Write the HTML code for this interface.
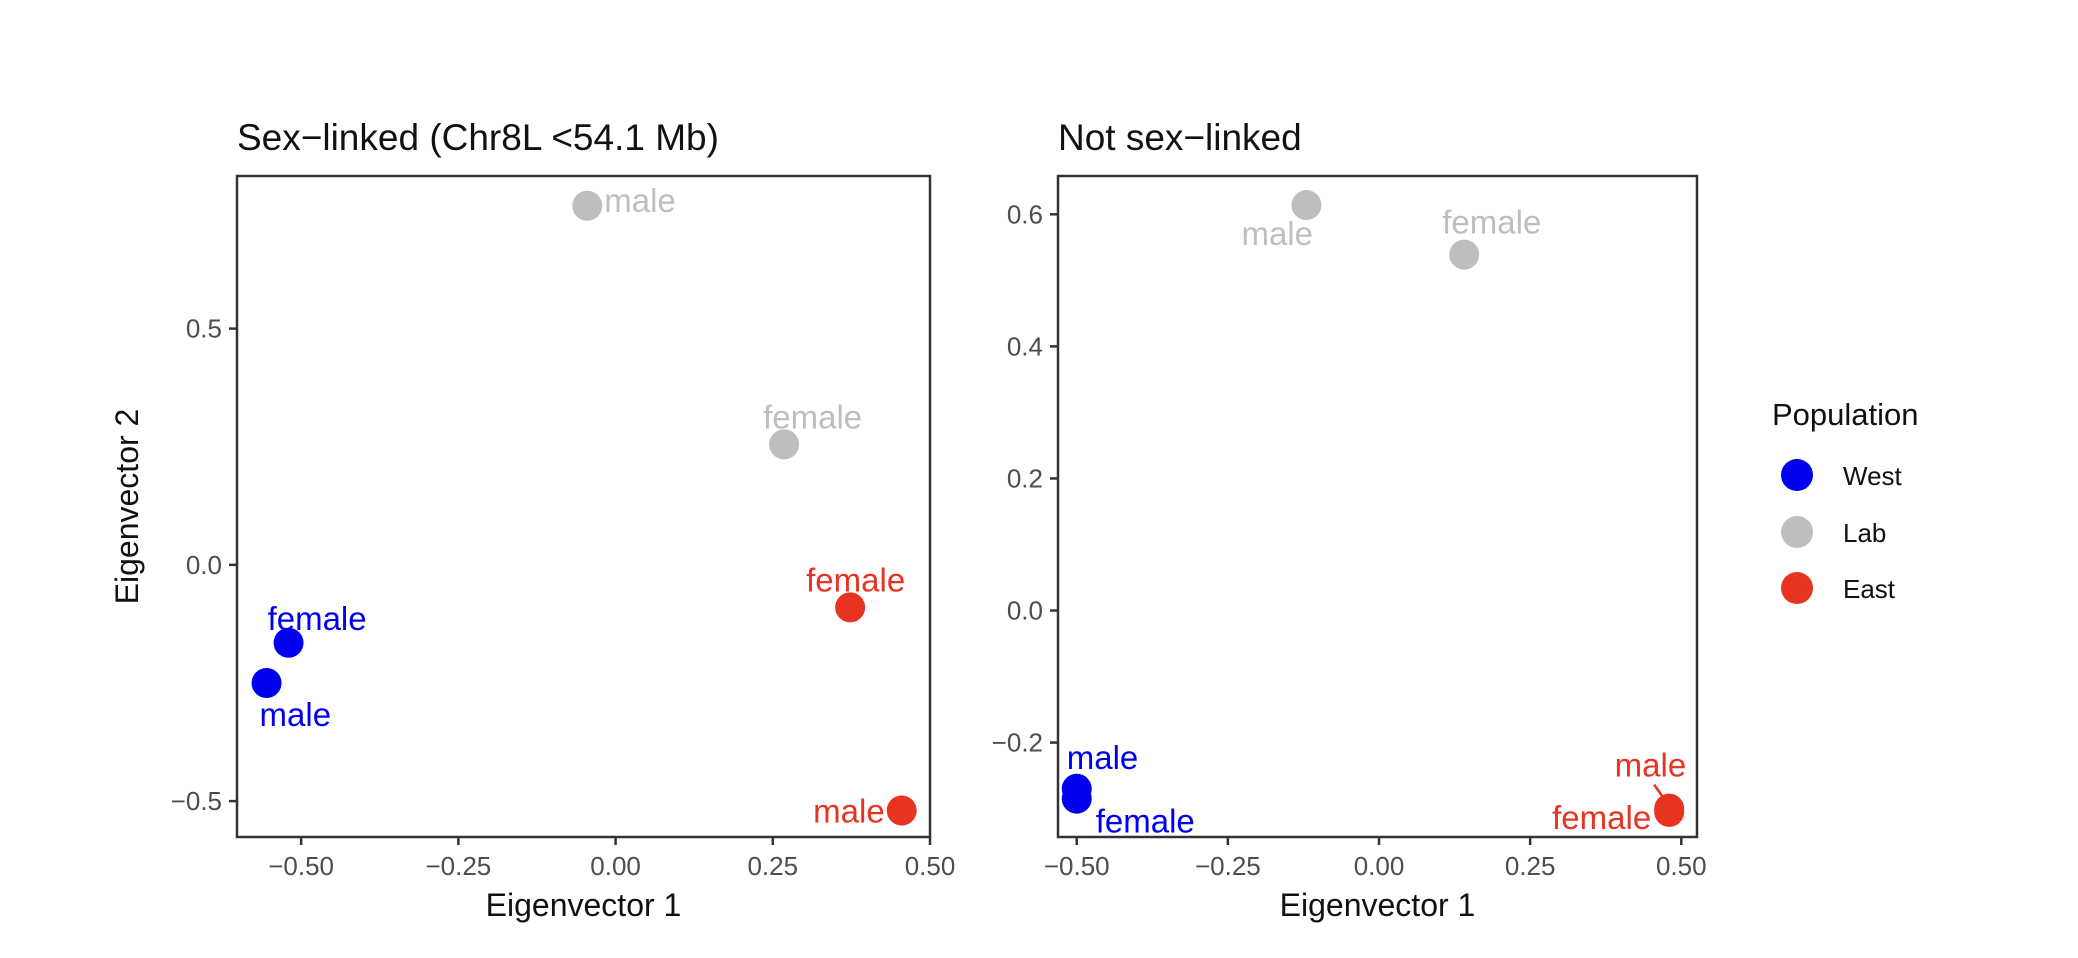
<!DOCTYPE html>
<html><head><meta charset="utf-8">
<style>
html,body{margin:0;padding:0;background:#fff;}
svg{display:block;font-family:"Liberation Sans",sans-serif;}
</style></head>
<body>
<svg id="chart" width="2078" height="958" viewBox="0 0 2078 958" xmlns="http://www.w3.org/2000/svg">
<rect x="0" y="0" width="2078" height="958" fill="#fff"/>
<g>
<text x="1772" y="425" font-size="31" fill="#111">Population</text>
<circle cx="1797" cy="475" r="16" fill="#0000f0"/>
<text x="1843" y="485" font-size="26" fill="#111">West</text>
<circle cx="1797" cy="532" r="16" fill="#bebebe"/>
<text x="1843" y="542" font-size="26" fill="#111">Lab</text>
<circle cx="1797" cy="588" r="16" fill="#e83320"/>
<text x="1843" y="598" font-size="26" fill="#111">East</text>
</g>
</svg>
<script>
// ---- Data: left panel (sex-linked)
const leftX = [-0.52, -0.555, -0.045, 0.268, 0.373, 0.455];
const leftY = [-0.165, -0.25, 0.76, 0.255, -0.09, -0.52];
const leftPop = ["West","West","Lab","Lab","East","East"];
const leftSex = ["female","male","male","female","female","male"];
const leftXTicks = [-0.5,-0.25,0,0.25,0.5];
const leftXTickLabels = ["\u22120.50","\u22120.25","0.00","0.25","0.50"];
const leftYTicks = [-0.5,0,0.5];
const leftYTickLabels = ["\u22120.5","0.0","0.5"];
// ---- Data: right panel (not sex-linked)
const rightX = [-0.5, -0.5, -0.12, 0.141, 0.48, 0.48];
const rightY = [-0.27, -0.285, 0.614, 0.539, -0.3, -0.305];
const rightPop = ["West","West","Lab","Lab","East","East"];
const rightSex = ["male","female","male","female","male","female"];
const rightXTicks = [-0.5,-0.25,0,0.25,0.5];
const rightXTickLabels = ["\u22120.50","\u22120.25","0.00","0.25","0.50"];
const rightYTicks = [-0.2,0,0.2,0.4,0.6];
const rightYTickLabels = ["\u22120.2","0.0","0.2","0.4","0.6"];

const colors = {West:"#0000f0", Lab:"#bebebe", East:"#e83320"};
// label offsets (styling: dx, dy, anchor)
const leftLabelOff = [[-21,-13,"start"],[-7,43,"start"],[17,6,"start"],[-21,-16,"start"],[-44,-16,"start"],[-17,12,"end"]];
const rightLabelOff = [[-10,-20,"start"],[19,34,"start"],[-65,40,"start"],[-22,-21,"start"],[17,-32,"end"],[-18,17,"end"]];

const svg = document.getElementById('chart');
const NS = "http://www.w3.org/2000/svg";
function mk(tag, attrs, parent){
  const e = document.createElementNS(NS, tag);
  for (const k in attrs) e.setAttribute(k, attrs[k]);
  (parent||svg).appendChild(e);
  return e;
}

function panel(cfg){
  const g = mk('g', {});
  
  
  const sx = v => cfg.x0 + (v - cfg.xmin) / (cfg.xmax - cfg.xmin) * (cfg.x1 - cfg.x0);
  const sy = v => cfg.y1 - (v - cfg.ymin) / (cfg.ymax - cfg.ymin) * (cfg.y1 - cfg.y0);
  const t = mk('text', {x: cfg.x0, y: 150, 'font-size': 37, fill: '#111'}, g);
  t.textContent = cfg.title;
  
  
  const fr = mk('rect', {x: cfg.x0, y: cfg.y0, width: cfg.x1 - cfg.x0, height: cfg.y1 - cfg.y0, fill: 'none', stroke: '#333', 'stroke-width': 2.5}, g);
  
  
  cfg.xt.forEach((v, i) => {
    const x = sx(v);
    const l = mk('line', {x1: x, x2: x, y1: cfg.y1, y2: cfg.y1 + 8, stroke: '#333', 'stroke-width': 2.5}, g);
    
    
    const tl = mk('text', {x: x, y: 875, 'font-size': 26, fill: '#4d4d4d', 'text-anchor': 'middle'}, g);
    tl.textContent = cfg.xtl[i];
    
    
  });
  cfg.yt.forEach((v, i) => {
    const y = sy(v);
    const l = mk('line', {x1: cfg.x0 - 8, x2: cfg.x0, y1: y, y2: y, stroke: '#333', 'stroke-width': 2.5}, g);
    
    
    const tl = mk('text', {x: cfg.x0 - 15, y: y + 9, 'font-size': 26, fill: '#4d4d4d', 'text-anchor': 'end'}, g);
    tl.textContent = cfg.ytl[i];
    
    
  });
  const xt = mk('text', {x: (cfg.x0 + cfg.x1) / 2, y: 916, 'font-size': 32, fill: '#111', 'text-anchor': 'middle'}, g);
  xt.textContent = 'Eigenvector 1';
  
  
  if (cfg.ytitle) {
    const yt = mk('text', {x: 0, y: 0, 'font-size': 32, fill: '#111', 'text-anchor': 'middle', transform: 'translate(138,' + ((cfg.y0 + cfg.y1) / 2) + ') rotate(-90)'}, g);
    yt.textContent = 'Eigenvector 2';
    
    
  }
  cfg.px.forEach((v, i) => {
    const cx = sx(v), cy = sy(cfg.py[i]);
    const c = mk('circle', {cx: cx, cy: cy, r: 15, fill: colors[cfg.pop[i]]}, g);
    
    
  });
  cfg.px.forEach((v, i) => {
    const cx = sx(v), cy = sy(cfg.py[i]);
    const o = cfg.off[i];
    const lb = mk('text', {x: cx + o[0], y: cy + o[1], 'font-size': 33, fill: colors[cfg.pop[i]], 'text-anchor': o[2]}, g);
    lb.textContent = cfg.sex[i];
    
    
  });
  if (cfg.leader) {
    const i = cfg.leader;
    const cx = sx(cfg.px[i]), cy = sy(cfg.py[i]);
    const ln = mk('line', {x1: cx - 15, y1: cy - 24, x2: cx - 6, y2: cy - 11, stroke: colors[cfg.pop[i]], 'stroke-width': 2.5}, g);
    
    
  }
}

panel({name: 'panel-sex-linked', title: 'Sex\u2212linked (Chr8L <54.1 Mb)',
  x0: 237, x1: 930, y0: 176, y1: 837, xmin: -0.602, xmax: 0.5, ymin: -0.576, ymax: 0.823,
  xt: leftXTicks, xtl: leftXTickLabels, yt: leftYTicks, ytl: leftYTickLabels,
  px: leftX, py: leftY, pop: leftPop, sex: leftSex, off: leftLabelOff, ytitle: true});
panel({name: 'panel-not-sex-linked', title: 'Not sex\u2212linked',
  x0: 1058, x1: 1697, y0: 176, y1: 837, xmin: -0.531, xmax: 0.526, ymin: -0.343, ymax: 0.658,
  xt: rightXTicks, xtl: rightXTickLabels, yt: rightYTicks, ytl: rightYTickLabels,
  px: rightX, py: rightY, pop: rightPop, sex: rightSex, off: rightLabelOff, ytitle: false, leader: 4});
</script>
</body></html>
